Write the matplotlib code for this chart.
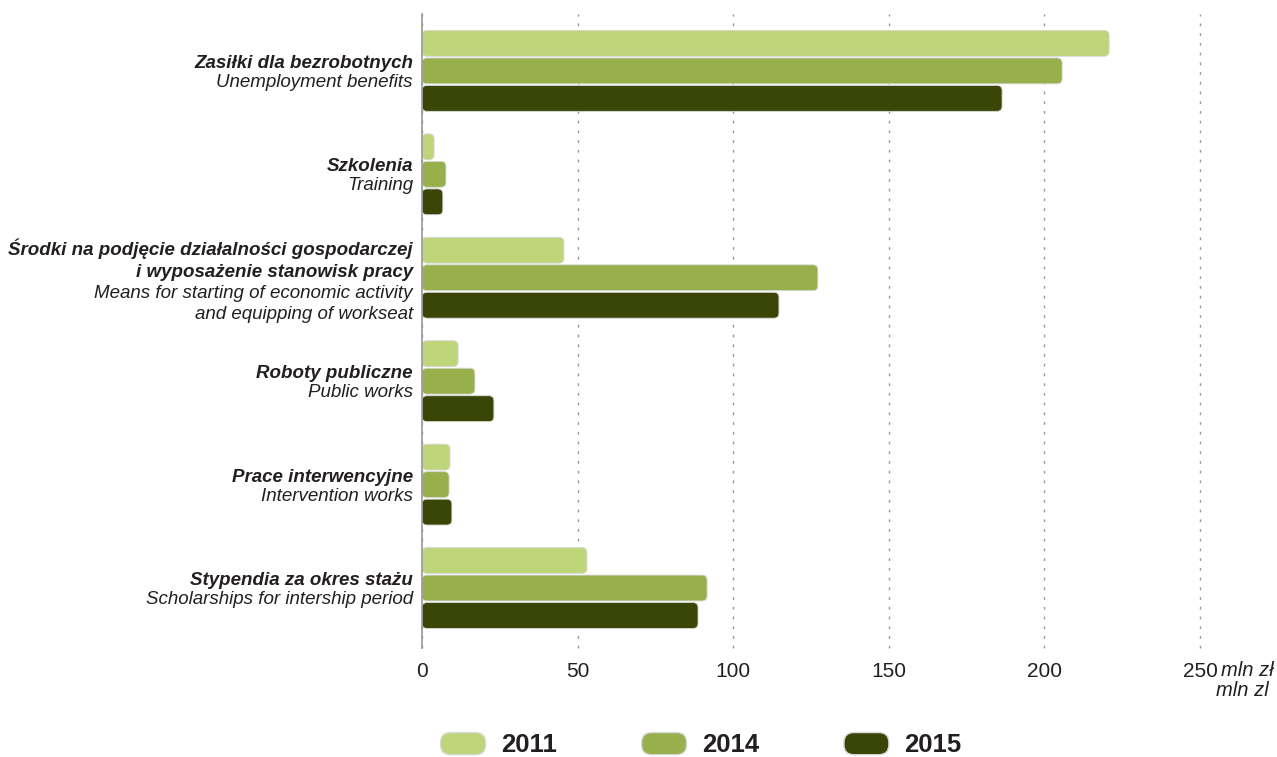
import matplotlib
matplotlib.use("Agg")
import matplotlib.pyplot as plt
from matplotlib.patches import FancyBboxPatch
from matplotlib.legend_handler import HandlerPatch

plt.rcParams['font.family'] = ['Liberation Sans', 'DejaVu Sans']

# dane (mln zł)
kategorie_pl = ["Zasiłki dla bezrobotnych",
                "Szkolenia",
                "Środki na podjęcie działalności gospodarczej\ni wyposażenie stanowisk pracy",
                "Roboty publiczne",
                "Prace interwencyjne",
                "Stypendia za okres stażu"]
kategorie_en = ["Unemployment benefits",
                "Training",
                "Means for starting of economic activity\nand equipping of workseat",
                "Public works",
                "Intervention works",
                "Scholarships for intership period"]
lata = ["2011", "2014", "2015"]
v2011 = [220.8, 3.9, 45.6, 11.6, 9.0, 53.0]
v2014 = [205.7, 7.7, 127.2, 17.0, 8.7, 91.6]
v2015 = [186.4, 6.7, 114.7, 23.1, 9.6, 88.7]
kolory = ["#bfd57a", "#98b04b", "#394605"]
ticki = [0, 50, 100, 150, 200, 250]

fig = plt.figure(figsize=(12.77, 7.57), dpi=100)
ax = fig.add_axes([422/1277, 1-648/757, (1200-422)/1277, (648-14)/757])

ax.set_xlim(0, 250)
ax.set_ylim(5.58, -0.55)

pitch = 0.266
h = 0.25
# skala px na jednostke (do zaokraglen)
px_x = (1200-422)/250
px_y = (648-14)/6.13
for k, (vals, kol) in enumerate(zip([v2011, v2014, v2015], kolory)):
    pos = [i + (k-1)*pitch for i in range(len(vals))]
    bars = ax.barh(pos, vals, height=h, color=kol)
    for b in bars:
        x0, y0 = b.get_x(), b.get_y()
        w, hh = b.get_width(), b.get_height()
        b.remove()
        r = min(5/px_x, w/2)
        p = FancyBboxPatch((x0, y0), w, hh,
                           boxstyle="round,pad=0,rounding_size=%f" % r,
                           mutation_aspect=px_x/px_y,
                           facecolor=kol, edgecolor="#d8d8d8", linewidth=0.6)
        ax.add_patch(p)

# etykiety kategorii
for i in range(len(kategorie_pl)):
    multi = "\n" in kategorie_pl[i]
    ax.annotate(kategorie_pl[i], xy=(0, i), xytext=(-9, -3 if multi else -1),
                textcoords='offset pixels', ha='right', va='bottom',
                fontsize=13.5, fontweight='bold', style='italic',
                color='#231f20', linespacing=1.36, annotation_clip=False)
    ax.annotate(kategorie_en[i], xy=(0, i), xytext=(-9, -7 if multi else -3),
                textcoords='offset pixels', ha='right', va='top',
                fontsize=13.5, style='italic',
                color='#231f20', linespacing=1.36, annotation_clip=False)

ax.set_xticks(ticki)
ax.set_xticklabels([str(t) for t in ticki], fontsize=15, color='#231f20')
ax.tick_params(axis='x', length=0, pad=10)
ax.set_yticks([])
ax.grid(axis='x', linestyle=(0, (2, 5)), color='#999999', linewidth=1)
for gl in ax.get_xgridlines():
    gl.set_clip_on(False)
ax.set_axisbelow(True)
for s in ['top', 'right', 'bottom']:
    ax.spines[s].set_visible(False)
ax.spines['left'].set_color('#999999')
ax.spines['left'].set_linewidth(1.2)

fig.text(1221/1277, 1-670/757, "mln zł", fontsize=14.5, style='italic',
         color='#231f20', ha='left', va='center')
fig.text(1269/1277, 1-690/757, "mln zl", fontsize=14.5, style='italic',
         color='#231f20', ha='right', va='center')

# legenda z zaokraglonymi polami
def rounded(legend, orig_handle, xdescent, ydescent, width, height, fontsize):
    return FancyBboxPatch((-xdescent, -ydescent), width, height,
                          boxstyle="round,pad=0,rounding_size=%f" % (height*0.45))

uchwyty = [plt.Rectangle((0, 0), 1, 1, facecolor=c, edgecolor="#d8d8d8") for c in kolory]
leg = fig.legend(uchwyty, lata, ncol=3, loc='center',
                 bbox_to_anchor=(0.549, 1-745/757), frameon=False,
                 prop={'size': 18.5, 'weight': 'bold'},
                 handlelength=1.75, handleheight=0.95, handletextpad=0.6,
                 columnspacing=3.3,
                 handler_map={plt.Rectangle: HandlerPatch(patch_func=rounded)})
for t in leg.get_texts():
    t.set_color('#231f20')

fig.savefig("out.png", dpi=100)
